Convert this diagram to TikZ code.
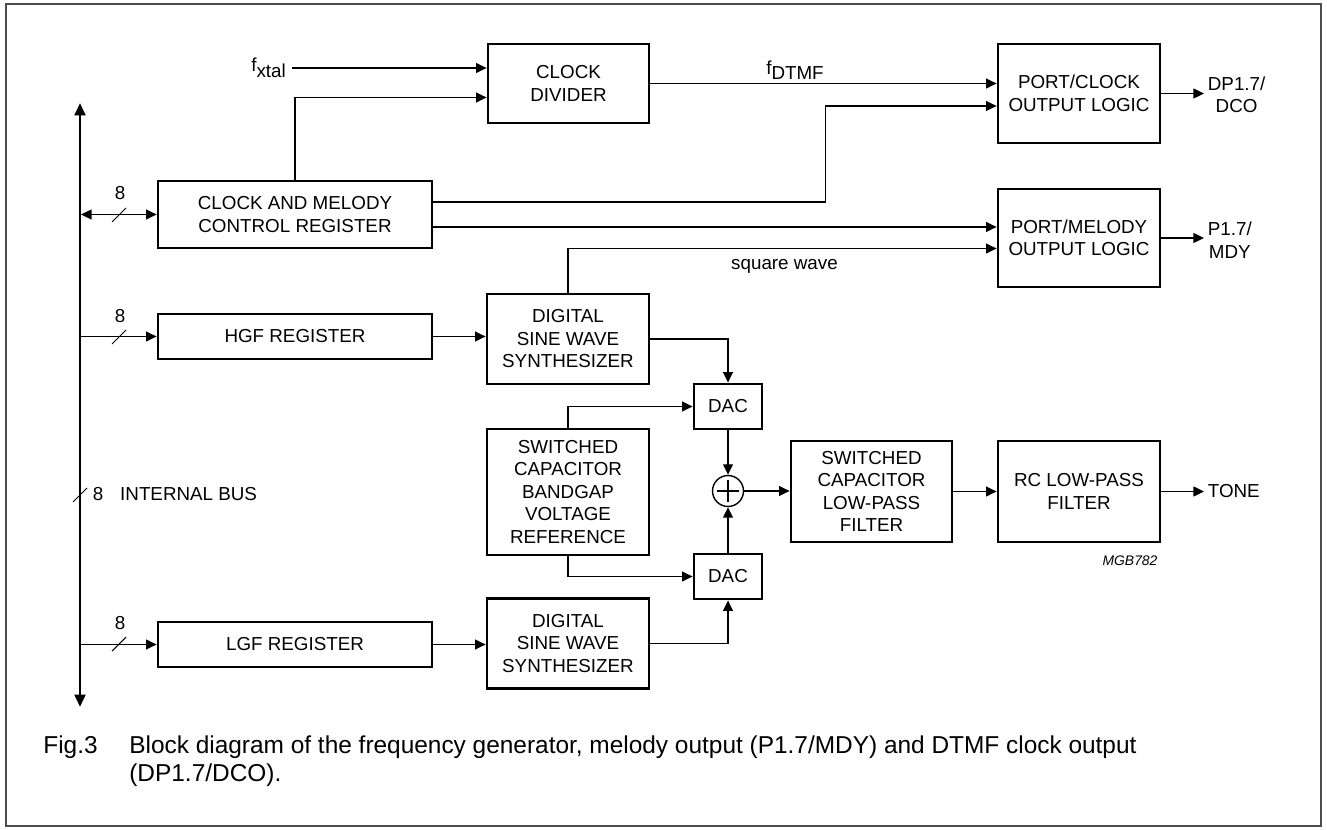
\documentclass[tikz,border=0pt]{standalone}
\usepackage{fontspec}
\setmainfont{Liberation Sans}
\usetikzlibrary{positioning, calc, arrows.meta}

\begin{document}
\begin{tikzpicture}[x=0.02cm, y=-0.02cm,
    >={Triangle[length=6pt,width=5.6pt]},
    every node/.style={font=\fontsize{10.7}{12.8}\selectfont},
    blk/.style={draw, line width=1.6pt, align=center, inner sep=0pt},
    wire/.style={line width=0.8pt},
    lbl/.style={inner sep=2pt, align=center},
    capt/.style={anchor=base west, inner sep=0pt, font=\fontsize{13.9}{16}\selectfont},
    busline/.style={line width=1.7pt, {Triangle[length=7pt,width=6pt]}-{Triangle[length=7pt,width=6pt]}},
    tick/.style={line width=0.6pt},
    adder/.style={draw, circle, line width=0.8pt, minimum size=0.62cm, inner sep=0pt,
      path picture={\draw[line width=1.4pt] ($(path picture bounding box.center)+(-11,0)$) -- ++(22,0)
        ($(path picture bounding box.center)+(0,-11)$) -- ++(0,22);}}]

  \useasboundingbox (0,0) rectangle (1327,830);
  \draw[black!70, line width=0.7pt] (6,4) rectangle (1321,826);

  % blocks
  \node[blk, minimum width=3.22cm, minimum height=1.58cm] (DIV) at (568.5,83.5) {CLOCK\\DIVIDER};
  \node[blk, minimum width=5.48cm, minimum height=1.34cm] (CMC) at (295,214.5) {CLOCK AND MELODY\\CONTROL REGISTER};
  \node[blk, minimum width=5.48cm, minimum height=0.9cm] (HGF) at (295,336.5) {HGF REGISTER};
  \node[blk, minimum width=5.48cm, minimum height=0.9cm] (LGF) at (295,644.5) {LGF REGISTER};
  \node[blk, minimum width=3.24cm, minimum height=1.8cm] (SYN1) at (568,339) {DIGITAL\\SINE WAVE\\SYNTHESIZER};
  \node[blk, minimum width=3.24cm, minimum height=2.52cm] (REF) at (568,492) {SWITCHED\\CAPACITOR\\BANDGAP\\VOLTAGE\\REFERENCE};
  \node[blk, minimum width=3.24cm, minimum height=1.8cm] (SYN2) at (568,643.5) {DIGITAL\\SINE WAVE\\SYNTHESIZER};
  \node[blk, minimum width=1.36cm, minimum height=0.9cm] (DAC1) at (728,406.5) {DAC};
  \node[blk, minimum width=1.36cm, minimum height=0.9cm] (DAC2) at (728,576.5) {DAC};
  \node[adder] (SUM) at (728,491) {};
  \node[blk, minimum width=3.22cm, minimum height=2.02cm] (SCF) at (871.5,491.5) {SWITCHED\\CAPACITOR\\LOW-PASS\\FILTER};
  \node[blk, minimum width=3.24cm, minimum height=2.02cm] (RCF) at (1079,491.5) {RC LOW-PASS\\FILTER};
  \node[blk, minimum width=3.24cm, minimum height=1.98cm] (PCL) at (1079,93.5) {PORT/CLOCK\\OUTPUT LOGIC};
  \node[blk, minimum width=3.24cm, minimum height=1.96cm] (PML) at (1079,238) {PORT/MELODY\\OUTPUT LOGIC};

  % labels
  \node[anchor=east] (XTAL) at (292,68) {f\raisebox{-0.55ex}{xtal}};
  \node (FDTMF) at (795,70) {f\raisebox{-0.55ex}{DTMF}};
  \node (SQW) at (784.5,266) {square wave};
  \node[lbl, anchor=west] (DCO) at (1204,95) {DP1.7/\\DCO};
  \node[lbl, anchor=west] (MDY) at (1204,240) {P1.7/\\MDY};
  \node[lbl, anchor=west] (TONE) at (1204,491.5) {TONE};
  \node[font=\fontsize{7.9}{9}\selectfont\itshape] (CODE) at (1130,561) {MGB782};
  \node (W1) at (120,193) {8};
  \node (W2) at (120,316) {8};
  \node (W3) at (120,623) {8};
  \node (W4) at (98,494) {8};
  \node[anchor=west] (BUS) at (114,494) {INTERNAL BUS};

  % internal bus
  \coordinate (busT) at (80,103);
  \coordinate (busB) at (80,707);
  \draw[busline] (busT) -- (busB);
  \draw[wire, <->] ($(CMC.west -| busT)+(1,0)$) -- (CMC.west);
  \draw[wire, ->] (HGF.west -| busT) -- (HGF.west);
  \draw[wire, ->] (LGF.west -| busT) -- (LGF.west);
  \draw[tick] (112,222) -- (126,208);
  \draw[tick] (112,344) -- (126,330);
  \draw[tick] (112,651) -- (126,637);
  \draw[tick] (73,502) -- (87,488);

  % clock path
  \draw[wire, ->] (XTAL.east |- DIV.west) ++(0,-15.5) -- ($(DIV.west)+(0,-15.5)$);
  \draw[wire, ->] (CMC.north) |- ($(DIV.west)+(0,14)$);
  \draw[wire, ->] (DIV.east) -- (DIV.east -| PCL.west);
  \draw[wire, ->] ($(CMC.east)+(0,-12.5)$) -- ++(392,0) |- ($(PCL.west)+(0,12.5)$);
  \draw[wire, ->] ($(CMC.east)+(0,12.5)$) -- ($(CMC.east -| PML.west)+(0,12.5)$);
  \draw[wire, ->] (SYN1.north) |- ($(PML.west)+(0,10.5)$);
  \draw[wire, ->] (PCL.east) -- (DCO.west |- PCL.east);
  \draw[wire, ->] (PML.east) -- (MDY.west |- PML.east);

  % tone path
  \draw[wire, ->] (HGF.east) -- (HGF.east -| SYN1.west);
  \draw[wire, ->] (LGF.east) -- (LGF.east -| SYN2.west);
  \draw[wire, ->] (SYN1.east) -| (DAC1.north);
  \draw[wire, ->] (SYN2.east) -| (DAC2.south);
  \draw[wire, ->] (REF.north) |- (DAC1.west);
  \draw[wire, ->] (REF.south) |- (DAC2.west);
  \draw[wire, ->] (DAC1.south) -- (SUM.north);
  \draw[wire, ->] (DAC2.north) -- (SUM.south);
  \draw[wire, ->] (SUM.east) -- (SUM.east -| SCF.west);
  \draw[wire, ->] (SCF.east) -- (SCF.east -| RCF.west);
  \draw[wire, ->] (RCF.east) -- (TONE.west);

  % caption
  \node[capt] (FIG) at (43,753) {Fig.3};
  \node[capt] (CAP1) at (129,753) {Block diagram of the frequency generator, melody output (P1.7/MDY) and DTMF clock output};
  \node[capt] (CAP2) at (129,781) {(DP1.7/DCO).};
\end{tikzpicture}
\end{document}
